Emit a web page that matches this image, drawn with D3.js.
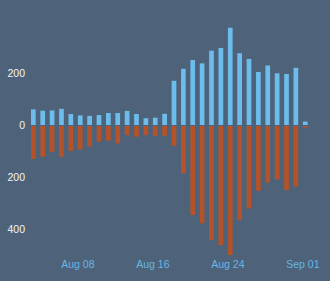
<!DOCTYPE html>
<html lang="en">
<head>
  <meta charset="UTF-8">
  <title>Daily bars</title>
  <script src="https://cdn.jsdelivr.net/npm/d3@7"></script>
  <style>
    html, body { margin: 0; padding: 0; background: #4e6379; }
    body { font-family: 'Liberation Sans', Arial, sans-serif; }
  </style>
</head>
<body>
  <script>
    // one bar per day, Aug 03 .. Sep 01
    const startDay = new Date(Date.UTC(2020, 7, 3));
    const upValues = [62, 57, 58, 64, 44, 39, 37, 40, 48, 48, 56, 44, 28, 30, 45,
                      172, 218, 252, 239, 288, 298, 376, 278, 256, 206, 231, 201, 198, 222, 15];
    const downValues = [129, 120, 101, 120, 98, 92, 81, 62, 58, 69, 37, 43, 37, 40, 39,
                        78, 184, 344, 376, 440, 460, 498, 363, 319, 251, 220, 207, 248, 235, 8];
    const yTicks = [-400, -200, 0, 200];
    const xTickDays = [5, 13, 21, 29]; // offsets from startDay: Aug 08, Aug 16, Aug 24, Sep 01

    const width = 330;
    const height = 281;

    const days = upValues.map((_, i) => d3.utcDay.offset(startDay, i));

    const x = d3.scaleUtc()
        .domain([startDay, d3.utcDay.offset(startDay, 29)])
        .range([31, 302.9]);

    const y = d3.scaleLinear()
        .domain([-500, 400])
        .range([255.5, 21.5]);

    const svg = d3.create("svg")
        .attr("width", width)
        .attr("height", height)
        .attr("viewBox", [0, 0, width, height])
        .style("display", "block");

    svg.append("rect")
        .attr("width", width)
        .attr("height", height)
        .attr("fill", "#4e6379");

    const barW = 4.7;

    svg.append("g")
        .attr("fill", "#6cbdec")
      .selectAll("rect")
      .data(days)
      .join("rect")
        .attr("x", d => x(d))
        .attr("width", barW)
        .attr("y", (d, i) => y(upValues[i]))
        .attr("height", (d, i) => y(0) - 0.5 - y(upValues[i]));

    svg.append("g")
        .attr("fill", "#b4532a")
      .selectAll("rect")
      .data(days)
      .join("rect")
        .attr("x", d => x(d))
        .attr("width", barW)
        .attr("y", y(0) + 0.5)
        .attr("height", (d, i) => y(-downValues[i]) - y(0) - 0.5);

    // y axis labels (absolute values)
    svg.append("g")
        .attr("font-size", 10.5)
        .attr("fill", "#f2f4f6")
        .attr("text-anchor", "end")
      .selectAll("text")
      .data(yTicks)
      .join("text")
        .attr("x", 25)
        .attr("y", d => y(d))
        .attr("dy", "0.35em")
        .text(d => Math.abs(d));

    // x axis labels
    const fmt = d3.utcFormat("%b %d");
    svg.append("g")
        .attr("font-size", 10.5)
        .attr("fill", "#66b6e6")
        .attr("text-anchor", "middle")
      .selectAll("text")
      .data(xTickDays.map(o => d3.utcDay.offset(startDay, o)))
      .join("text")
        .attr("x", d => x(d))
        .attr("y", 268)
        .text(d => fmt(d));

    document.body.appendChild(svg.node());
  </script>
</body>
</html>
